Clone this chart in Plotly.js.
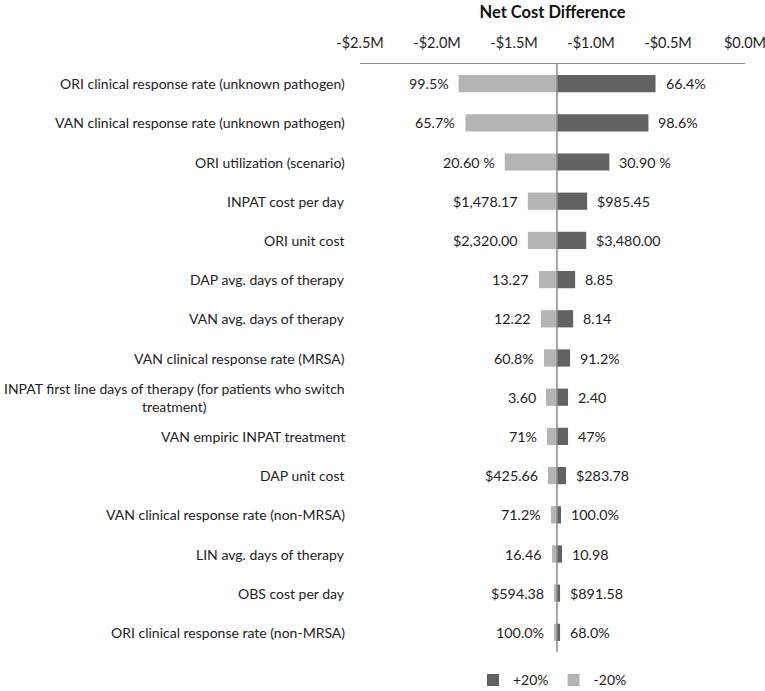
<!DOCTYPE html>
<html>
<head>
<meta charset="utf-8">
<script src="https://cdn.plot.ly/plotly-3.0.1.min.js"></script>
<style>html,body{margin:0;padding:0;background:#fff;}#chart{width:765px;height:691px;}</style>
</head>
<body>
<div id="chart"></div>
<script>
// Parameters (top to bottom)
const categories = [
  "ORI clinical response rate (unknown pathogen)",
  "VAN clinical response rate (unknown pathogen)",
  "ORI utilization (scenario)",
  "INPAT cost per day",
  "ORI unit cost",
  "DAP avg. days of therapy",
  "VAN avg. days of therapy",
  "VAN clinical response rate (MRSA)",
  "INPAT first line days of therapy (for patients who switch<br>treatment)",
  "VAN empiric INPAT treatment",
  "DAP unit cost",
  "VAN clinical response rate (non-MRSA)",
  "LIN avg. days of therapy",
  "OBS cost per day",
  "ORI clinical response rate (non-MRSA)"
];
// Base case net cost difference ($M)
const baseCase = -1.221;
// Net cost difference ($M) at -20% (light) and +20% (dark)
const minus20Values = [-1.860, -1.815, -1.560, -1.410, -1.410, -1.338, -1.325, -1.305, -1.292, -1.286, -1.279, -1.260, -1.253, -1.240, -1.240];
const plus20Values  = [-0.581, -0.627, -0.881, -1.025, -1.031, -1.103, -1.116, -1.136, -1.149, -1.149, -1.162, -1.195, -1.188, -1.201, -1.201];
const minus20Labels = ["99.5%", "65.7%", "20.60 %", "$1,478.17", "$2,320.00", "13.27", "12.22", "60.8%", "3.60", "71%", "$425.66", "71.2%", "16.46", "$594.38", "100.0%"];
const plus20Labels  = ["66.4%", "98.6%", "30.90 %", "$985.45", "$3,480.00", "8.85", "8.14", "91.2%", "2.40", "47%", "$283.78", "100.0%", "10.98", "$891.58", "68.0%"];
const tickVals = [-2.5, -2.0, -1.5, -1.0, -0.5, 0.0];
const tickText = ["-$2.5M", "-$2.0M", "-$1.5M", "-$1.0M", "-$0.5M", "$0.0M"];

const FONT = "Lato, 'Open Sans', sans-serif";
const DARK = "#626262";
const LIGHT = "#b4b4b4";

const traces = [
  {
    type: "bar", orientation: "h", name: "+20%",
    y: categories,
    base: categories.map(() => baseCase),
    x: plus20Values.map(v => v - baseCase),
    marker: {color: DARK},
    width: 0.44,
    hoverinfo: "skip"
  },
  {
    type: "bar", orientation: "h", name: "-20%",
    y: categories,
    base: categories.map(() => baseCase),
    x: minus20Values.map(v => v - baseCase),
    marker: {color: LIGHT},
    width: 0.44,
    hoverinfo: "skip"
  }
];

const annotations = [];
categories.forEach((c, i) => {
  annotations.push({
    xref: "paper", x: 0, xanchor: "right", xshift: -13,
    yref: "y", y: c, yanchor: "middle",
    text: c, showarrow: false, align: "center",
    font: {family: FONT, size: 14, color: "#222"}
  });
  annotations.push({
    xref: "x", x: minus20Values[i], xanchor: "right", xshift: -8,
    yref: "y", y: c, yanchor: "middle",
    text: minus20Labels[i], showarrow: false,
    font: {family: FONT, size: 14.3, color: "#222"}
  });
  annotations.push({
    xref: "x", x: plus20Values[i], xanchor: "left", xshift: 8,
    yref: "y", y: c, yanchor: "middle",
    text: plus20Labels[i], showarrow: false,
    font: {family: FONT, size: 14.3, color: "#222"}
  });
});

const layout = {
  width: 765, height: 691,
  margin: {l: 360, r: 20, t: 64, b: 39, autoexpand: false},
  paper_bgcolor: "#fff", plot_bgcolor: "#fff",
  barmode: "overlay",
  showlegend: true,
  title: {
    text: "<b>Net Cost Difference</b>",
    font: {family: FONT, size: 16.5, color: "#111"},
    xref: "paper", x: 0.5, xanchor: "center",
    yref: "container", y: 0.982, yanchor: "middle"
  },
  xaxis: {
    side: "top", range: [-2.5, 0], tickvals: tickVals, ticktext: tickText,
    showgrid: false, zeroline: false, showline: true, linecolor: "#8c8c8c", linewidth: 1.5,
    ticks: "outside", ticklen: 9, tickcolor: "rgba(0,0,0,0)",
    ticklabeloverflow: "allow", automargin: false,
    tickfont: {family: FONT, size: 14.5, color: "#222"}, fixedrange: true
  },
  yaxis: {
    type: "category", categoryorder: "array", categoryarray: categories,
    range: [14.5, -0.5], showticklabels: false, showgrid: false, zeroline: false,
    showline: false, ticks: "", fixedrange: true, automargin: false
  },
  shapes: [{
    type: "line", xref: "x", x0: baseCase, x1: baseCase, yref: "paper", y0: 0, y1: 1,
    line: {color: "#8c8c8c", width: 1.5}
  }],
  annotations: annotations,
  legend: {
    orientation: "h", x: 0.5, xanchor: "center", y: -0.021, yanchor: "top",
    font: {family: FONT, size: 14, color: "#222"}, traceorder: "normal",
    itemwidth: 30
  }
};

Plotly.newPlot("chart", traces, layout, {displayModeBar: false, staticPlot: true});
</script>
</body>
</html>
